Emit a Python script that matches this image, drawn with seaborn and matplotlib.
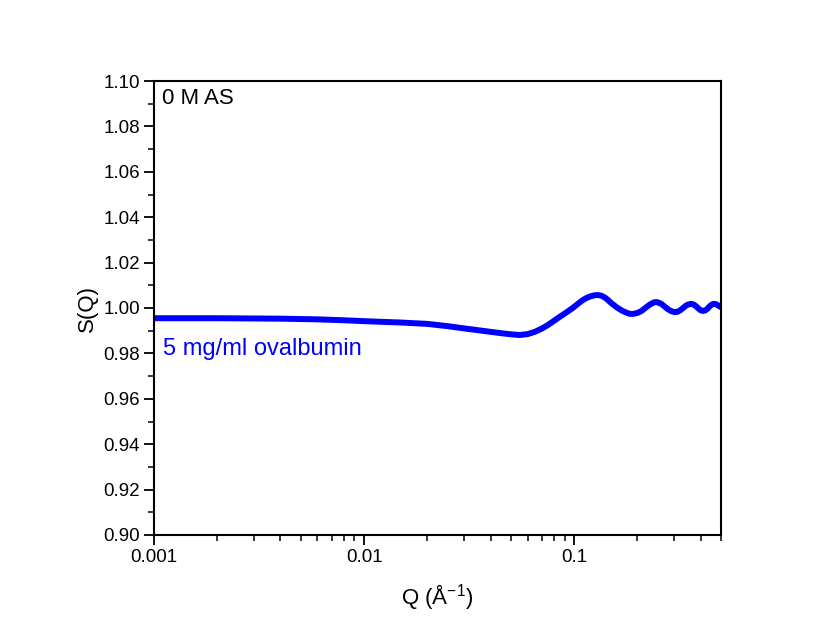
import numpy as np
import pandas as pd
import matplotlib
matplotlib.use("Agg")
import matplotlib.pyplot as plt
import seaborn as sns
from matplotlib.ticker import LogLocator, MultipleLocator, FixedLocator, FixedFormatter, NullFormatter

q_values = [0.001, 0.002, 0.004, 0.006, 0.008, 0.01, 0.015, 0.02, 0.025, 0.03,
            0.035, 0.04, 0.045, 0.05, 0.055, 0.06, 0.065, 0.07, 0.075, 0.08,
            0.085, 0.09, 0.095, 0.10, 0.105, 0.11, 0.115, 0.12, 0.125, 0.13,
            0.135, 0.14, 0.145, 0.15, 0.16, 0.17, 0.18, 0.185, 0.19, 0.20,
            0.21, 0.22, 0.23, 0.24, 0.245, 0.25, 0.26, 0.27, 0.28, 0.29,
            0.30, 0.31, 0.32, 0.33, 0.34, 0.35, 0.36, 0.37, 0.38, 0.39,
            0.40, 0.41, 0.42, 0.43, 0.44, 0.45, 0.46, 0.47, 0.48, 0.49, 0.50]
s_values = [0.9955, 0.9955, 0.9953, 0.9950, 0.9946, 0.9942, 0.9936, 0.9930, 0.9920, 0.9910,
            0.9902, 0.9895, 0.9889, 0.9884, 0.9881, 0.9885, 0.9895, 0.9909, 0.9925, 0.9943,
            0.9960, 0.9975, 0.9990, 1.0005, 1.0021, 1.0035, 1.0045, 1.0052, 1.0056, 1.0057,
            1.0054, 1.0046, 1.0035, 1.0022, 1.0002, 0.9987, 0.9977, 0.9974, 0.9974, 0.9978,
            0.9988, 1.0003, 1.0016, 1.0025, 1.0026, 1.0025, 1.0018, 1.0006, 0.9994, 0.9986,
            0.9982, 0.9983, 0.9990, 1.0000, 1.0010, 1.0016, 1.0018, 1.0016, 1.0008, 0.9998,
            0.9990, 0.9987, 0.9989, 0.9996, 1.0006, 1.0014, 1.0018, 1.0018, 1.0014, 1.0008, 1.0004]

x_ticks = [0.001, 0.01, 0.1]
x_tick_labels = ["0.001", "0.01", "0.1"]
y_ticks = [0.90, 0.92, 0.94, 0.96, 0.98, 1.00, 1.02, 1.04, 1.06, 1.08, 1.10]

df = pd.DataFrame({"Q": q_values, "S": s_values})

sns.set_theme(style="white")
plt.rcParams['font.family'] = ['Liberation Sans', 'DejaVu Sans']
plt.rcParams['mathtext.fontset'] = 'custom'
plt.rcParams['mathtext.rm'] = 'Liberation Sans'

fig = plt.figure(figsize=(8.22, 6.27), dpi=100)
ax = fig.add_axes([154/822, 1-535/627, (721-154)/822, (535-81)/627])

sns.lineplot(data=df, x="Q", y="S", ax=ax, color=(0, 0, 1), linewidth=4.3, sort=False)

ax.set_xscale("log")
ax.set_xlim(0.001, 0.5)
ax.set_ylim(0.90, 1.10)

ax.xaxis.set_major_locator(FixedLocator(x_ticks))
ax.xaxis.set_major_formatter(FixedFormatter(x_tick_labels))
ax.xaxis.set_minor_locator(LogLocator(base=10, subs=np.arange(2, 10)))
ax.xaxis.set_minor_formatter(NullFormatter())
ax.yaxis.set_major_locator(FixedLocator(y_ticks))
ax.set_yticklabels([f"{v:.2f}" for v in y_ticks])
ax.yaxis.set_minor_locator(MultipleLocator(0.01))

ax.tick_params(axis="both", which="major", direction="out", length=7, width=1.3,
               labelsize=13.5, color="black", labelcolor="black", pad=3)
ax.tick_params(axis="both", which="minor", direction="out", length=4, width=1.1, color="black")
ax.tick_params(which="both", bottom=True, left=True, top=False, right=False)

for sp in ax.spines.values():
    sp.set_visible(True)
    sp.set_color("black")
    sp.set_linewidth(1.5)

ax.set_xlabel("Q (Å$^{\\mathregular{-1}}$)", fontsize=16, color="black", labelpad=12)
ax.set_ylabel("S(Q)", fontsize=16, color="black", labelpad=4)

ax.text(0.014, 0.985, "0 M AS", transform=ax.transAxes, fontsize=16,
        ha="left", va="top", color="black")
ax.text(0.015, 0.41, "5 mg/ml ovalbumin", transform=ax.transAxes, fontsize=17,
        ha="left", va="center", color=(0, 0, 1))

ax.set_facecolor("white")
fig.patch.set_facecolor("white")
fig.savefig("out.png", dpi=100)
